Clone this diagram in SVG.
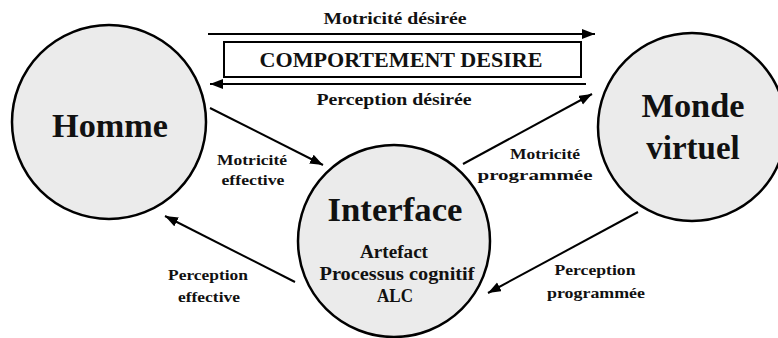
<svg xmlns="http://www.w3.org/2000/svg" width="778" height="338" viewBox="0 0 778 338">
<style>
  .node { fill: #ebebeb; stroke: #000; stroke-width: 2.5; }
  .t { font-family: "Liberation Serif", "Times New Roman", serif; font-weight: bold; fill: #111; text-anchor: middle; }
  .big { font-size: 33px; }
  .mid { font-size: 18px; }
  .lab { font-size: 15px; }
  .conn { stroke: #000; stroke-width: 2; fill: none; marker-end: url(#ah); }
</style>
<defs>
  <marker id="ah" markerUnits="userSpaceOnUse" markerWidth="14" markerHeight="11" refX="13" refY="5" orient="auto">
    <path d="M0,0 L13,5 L0,10 z" fill="#000"/>
  </marker>
</defs>
<rect width="778" height="338" fill="#fff"/>

<g id="connectors">
  <line class="conn" x1="208" y1="34" x2="595" y2="34"/>
  <line class="conn" x1="586" y1="84" x2="210" y2="84"/>
  <line class="conn" x1="210" y1="108" x2="323" y2="165"/>
  <line class="conn" x1="463" y1="164" x2="592" y2="94"/>
  <line class="conn" x1="638" y1="212" x2="488" y2="293"/>
  <line class="conn" x1="295" y1="282" x2="165" y2="216"/>
</g>

<g id="comportement">
  <rect x="224" y="42" width="357" height="35" fill="#fff" stroke="#000" stroke-width="2"/>
  <text class="t" x="401" y="67" font-size="20" textLength="283" lengthAdjust="spacingAndGlyphs">COMPORTEMENT DESIRE</text>
</g>

<g id="homme">
  <circle class="node" cx="109" cy="122" r="97"/>
  <text class="t big" x="110" y="137" textLength="116" lengthAdjust="spacingAndGlyphs">Homme</text>
</g>

<g id="interface">
  <circle class="node" cx="394" cy="241" r="96"/>
  <text class="t big" x="395" y="221" textLength="135" lengthAdjust="spacingAndGlyphs">Interface</text>
  <text class="t mid" x="394" y="258" textLength="68" lengthAdjust="spacingAndGlyphs">Artefact</text>
  <text class="t mid" x="397" y="280" textLength="155" lengthAdjust="spacingAndGlyphs">Processus cognitif</text>
  <text class="t mid" x="395" y="302" textLength="36" lengthAdjust="spacingAndGlyphs">ALC</text>
</g>

<g id="monde">
  <circle class="node" cx="692" cy="127" r="94"/>
  <text class="t big" x="693" y="117" textLength="103" lengthAdjust="spacingAndGlyphs">Monde</text>
  <text class="t big" x="693" y="159">virtuel</text>
</g>

<g id="labels">
  <text class="t" x="395" y="24" font-size="17" textLength="143" lengthAdjust="spacingAndGlyphs">Motricité désirée</text>
  <text class="t" x="394" y="105" font-size="17" textLength="155" lengthAdjust="spacingAndGlyphs">Perception désirée</text>
  <text class="t lab" x="252" y="165" textLength="70" lengthAdjust="spacingAndGlyphs">Motricité</text>
  <text class="t lab" x="253" y="185" textLength="63" lengthAdjust="spacingAndGlyphs">effective</text>
  <text class="t lab" x="208" y="280" textLength="80" lengthAdjust="spacingAndGlyphs">Perception</text>
  <text class="t lab" x="209" y="302" textLength="62" lengthAdjust="spacingAndGlyphs">effective</text>
  <text class="t lab" x="545" y="159" textLength="70" lengthAdjust="spacingAndGlyphs">Motricité</text>
  <text class="t lab" x="535" y="180" textLength="115" lengthAdjust="spacingAndGlyphs">programmée</text>
  <text class="t lab" x="595" y="275" textLength="81" lengthAdjust="spacingAndGlyphs">Perception</text>
  <text class="t lab" x="596" y="298" textLength="98" lengthAdjust="spacingAndGlyphs">programmée</text>
</g>
</svg>
